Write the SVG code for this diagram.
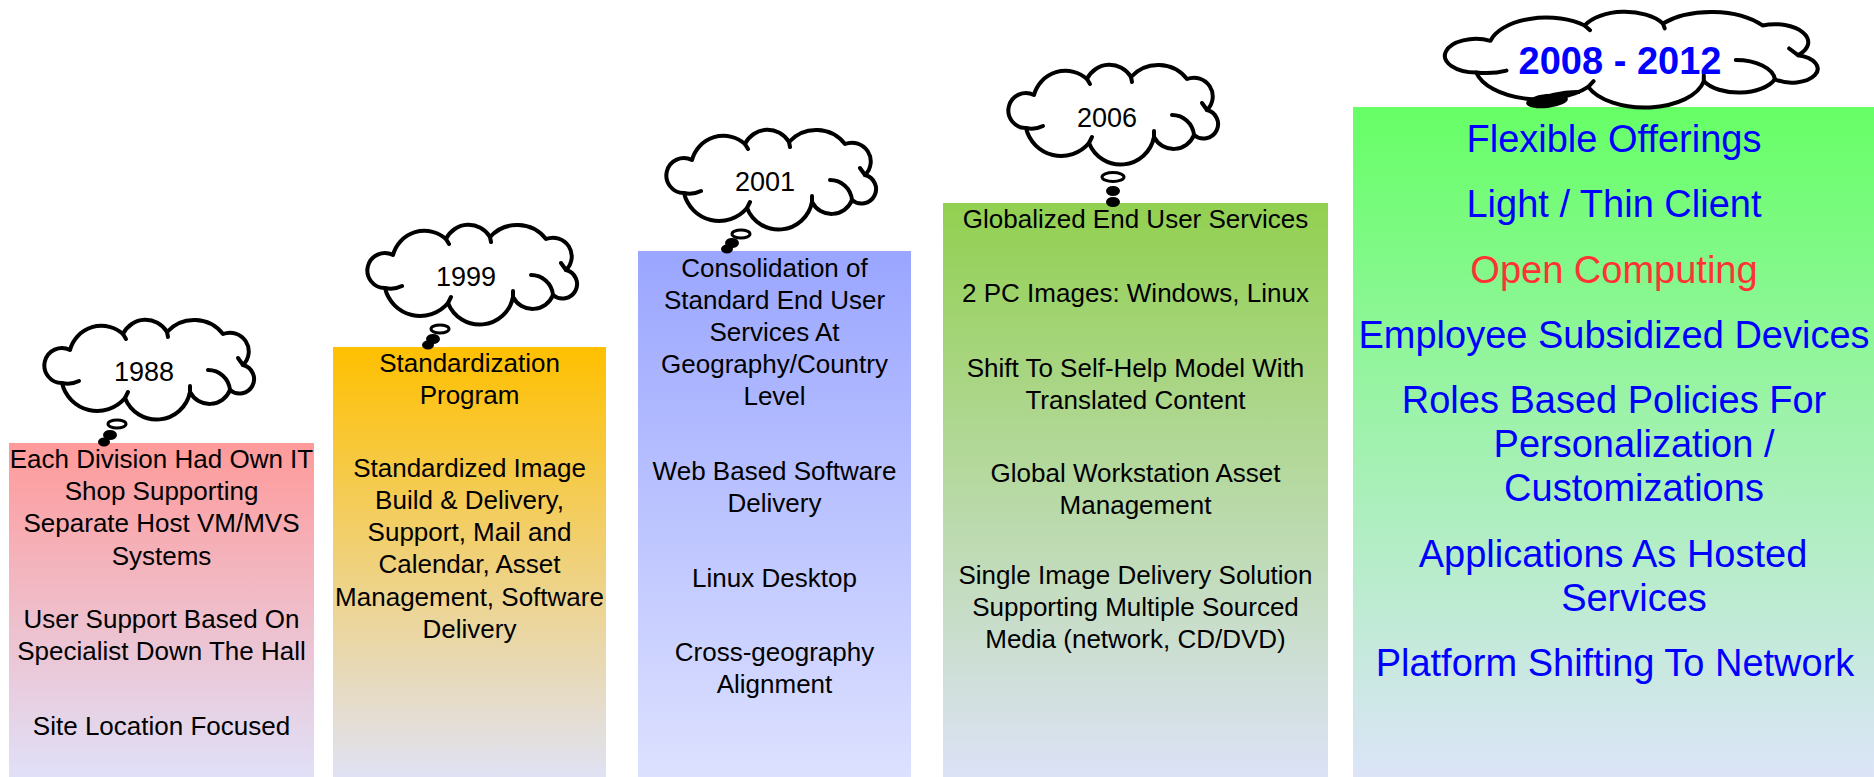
<svg xmlns="http://www.w3.org/2000/svg" xmlns:xlink="http://www.w3.org/1999/xlink" width="1874" height="777" viewBox="0 0 1874 777">
<style>
.t{font-family:"Liberation Sans",Arial,sans-serif;font-size:26px;fill:#000;text-anchor:middle}
.b5{font-family:"Liberation Sans",Arial,sans-serif;font-size:38px;fill:#0000FF;text-anchor:middle}
.yr{font-family:"Liberation Sans",Arial,sans-serif;font-size:27px;fill:#000;text-anchor:middle}
.cl{fill:#fff;stroke:#000;stroke-width:4;stroke-linejoin:round;stroke-linecap:round}
.ci{fill:none;stroke:#000;stroke-width:4;stroke-linecap:round}
.bo{fill:#fff;stroke:#000;stroke-width:3}
.bf{fill:#000;stroke:#000;stroke-width:2}
</style>
<defs>
<linearGradient id="g1" x1="0" y1="0" x2="0" y2="1"><stop offset="0" stop-color="#FF9A9A"/><stop offset="1" stop-color="#E0E0F8"/></linearGradient>
<linearGradient id="g2" x1="0" y1="0" x2="0" y2="1"><stop offset="0" stop-color="#FFC000"/><stop offset="1" stop-color="#E0E2F4"/></linearGradient>
<linearGradient id="g3" x1="0" y1="0" x2="0" y2="1"><stop offset="0" stop-color="#9AA6FF"/><stop offset="1" stop-color="#DDE1FF"/></linearGradient>
<linearGradient id="g4" x1="0" y1="0" x2="0" y2="1"><stop offset="0" stop-color="#92D050"/><stop offset="1" stop-color="#DCE2F6"/></linearGradient>
<linearGradient id="g5" x1="0" y1="0" x2="0" y2="1"><stop offset="0" stop-color="#66FF66"/><stop offset="1" stop-color="#DCE4F8"/></linearGradient>
<g id="cloud">
<path class="cl" vector-effect="non-scaling-stroke" d="M17,63 A17.5,17.5 0 1 1 25,30 A32.5,32.5 0 0 1 78,14 A25,25 0 0 1 122,12 A36.7,36.7 0 0 1 178,14 A18.8,18.8 0 0 1 198,45 A14.5,14.5 0 1 1 185,70 A22,22 0 0 1 145,72 A34,34 0 0 1 80,78 A36.2,36.2 0 0 1 17,63 Z"/>
<path class="ci" vector-effect="non-scaling-stroke" d="M17,63 Q26,65 34,61 M163,50 A22,22 0 0 1 185,70 M198,45 L193,38 M78,14 L81,19 M122,12 L123,17 M80,78 L83,72 M145,72 L145,66"/>
</g>
</defs>

<g id="era-1988">
<rect x="9" y="443" width="305" height="334" fill="url(#g1)"/>
<text class="t" x="161.5" y="468">Each Division Had Own IT</text>
<text class="t" x="161.5" y="500">Shop Supporting</text>
<text class="t" x="161.5" y="532">Separate Host VM/MVS</text>
<text class="t" x="161.5" y="565">Systems</text>
<text class="t" x="161.5" y="628">User Support Based On</text>
<text class="t" x="161.5" y="660">Specialist Down The Hall</text>
<text class="t" x="161.5" y="735">Site Location Focused</text>
</g>

<g id="era-1999">
<rect x="333" y="347" width="273" height="430" fill="url(#g2)"/>
<text class="t" x="469.5" y="372">Standardization</text>
<text class="t" x="469.5" y="404">Program</text>
<text class="t" x="469.5" y="477">Standardized Image</text>
<text class="t" x="469.5" y="509">Build &amp; Delivery,</text>
<text class="t" x="469.5" y="541">Support, Mail and</text>
<text class="t" x="469.5" y="573">Calendar, Asset</text>
<text class="t" x="469.5" y="606">Management, Software</text>
<text class="t" x="469.5" y="638">Delivery</text>
</g>

<g id="era-2001">
<rect x="638" y="251" width="273" height="526" fill="url(#g3)"/>
<text class="t" x="774.5" y="277">Consolidation of</text>
<text class="t" x="774.5" y="309">Standard End User</text>
<text class="t" x="774.5" y="341">Services At</text>
<text class="t" x="774.5" y="373">Geography/Country</text>
<text class="t" x="774.5" y="405">Level</text>
<text class="t" x="774.5" y="480">Web Based Software</text>
<text class="t" x="774.5" y="512">Delivery</text>
<text class="t" x="774.5" y="587">Linux Desktop</text>
<text class="t" x="774.5" y="661">Cross-geography</text>
<text class="t" x="774.5" y="693">Alignment</text>
</g>

<g id="era-2006">
<rect x="943" y="203" width="385" height="574" fill="url(#g4)"/>
<text class="t" x="1135.5" y="228">Globalized End User Services</text>
<text class="t" x="1135.5" y="302">2 PC Images: Windows, Linux</text>
<text class="t" x="1135.5" y="377">Shift To Self-Help Model With</text>
<text class="t" x="1135.5" y="409">Translated Content</text>
<text class="t" x="1135.5" y="482">Global Workstation Asset</text>
<text class="t" x="1135.5" y="514">Management</text>
<text class="t" x="1135.5" y="584">Single Image Delivery Solution</text>
<text class="t" x="1135.5" y="616">Supporting Multiple Sourced</text>
<text class="t" x="1135.5" y="648">Media (network, CD/DVD)</text>
</g>

<g id="era-2008-2012">
<rect x="1353" y="107" width="521" height="670" fill="url(#g5)"/>
<text class="b5" x="1614" y="152">Flexible Offerings</text>
<text class="b5" x="1614" y="217">Light / Thin Client</text>
<text class="b5" x="1614" y="283" style="fill:#FF3333">Open Computing</text>
<text class="b5" x="1614" y="348">Employee Subsidized Devices</text>
<text class="b5" x="1614" y="413">Roles Based Policies For</text>
<text class="b5" x="1634" y="457">Personalization /</text>
<text class="b5" x="1634" y="501">Customizations</text>
<text class="b5" x="1613" y="567">Applications As Hosted</text>
<text class="b5" x="1634" y="611">Services</text>
<text class="b5" x="1615" y="676">Platform Shifting To Network</text>
</g>

<g id="connectors">
<ellipse class="bo" cx="117" cy="424" rx="9" ry="4"/>
<ellipse class="bf" cx="110" cy="435" rx="6" ry="4"/>
<ellipse class="bf" cx="104" cy="442" rx="5" ry="3.5"/>
<ellipse class="bo" cx="440" cy="329" rx="9" ry="4"/>
<ellipse class="bf" cx="433" cy="339" rx="6" ry="4"/>
<ellipse class="bf" cx="428" cy="345" rx="5" ry="3.5"/>
<ellipse class="bo" cx="741" cy="234" rx="9" ry="4"/>
<ellipse class="bf" cx="732" cy="243" rx="6" ry="4"/>
<ellipse class="bf" cx="727" cy="249" rx="5" ry="3.5"/>
<ellipse class="bo" cx="1113" cy="177" rx="11" ry="4.5"/>
<ellipse class="bf" cx="1113" cy="191" rx="6" ry="4"/>
<ellipse class="bf" cx="1113" cy="202" rx="6" ry="4"/>
</g>

<g id="cloud-1988">
<use xlink:href="#cloud" href="#cloud" transform="translate(45,320)"/>
<text class="yr" x="144" y="381">1988</text>
</g>
<g id="cloud-1999">
<use xlink:href="#cloud" href="#cloud" transform="translate(368,225)"/>
<text class="yr" x="466" y="286">1999</text>
</g>
<g id="cloud-2001">
<use xlink:href="#cloud" href="#cloud" transform="translate(667,130)"/>
<text class="yr" x="765" y="191">2001</text>
</g>
<g id="cloud-2006">
<use xlink:href="#cloud" href="#cloud" transform="translate(1009,65)"/>
<text class="yr" x="1107" y="127">2006</text>
</g>
<g id="cloud-2008-2012">
<use xlink:href="#cloud" href="#cloud" transform="translate(1446,12) scale(1.778,0.96)"/>
<path d="M1532,103 Q1556,91 1580,92" fill="none" stroke="#000" stroke-width="4"/>
<ellipse cx="1547" cy="101" rx="21" ry="7" transform="rotate(-6 1547 101)" fill="#000"/>
<text x="1620" y="74" style="font-family:'Liberation Sans',Arial,sans-serif;font-size:38px;font-weight:bold;fill:#0000FF;text-anchor:middle">2008 - 2012</text>
</g>
</svg>
